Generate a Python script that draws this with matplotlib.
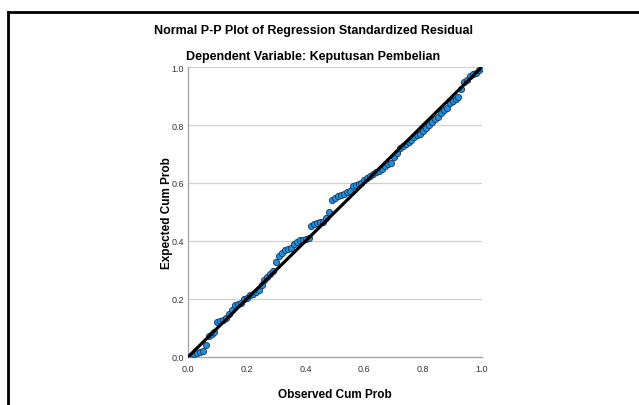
import matplotlib
matplotlib.use("Agg")
import matplotlib.pyplot as plt
from matplotlib.lines import Line2D

plt.rcParams['font.family'] = ['Liberation Sans', 'DejaVu Sans']

# Observed vs expected cumulative probability
observed_cum_prob = [
    0.01, 0.02, 0.03, 0.04, 0.05, 0.06, 0.07, 0.08, 0.09, 0.10,
    0.11, 0.12, 0.13, 0.14, 0.15, 0.16, 0.17, 0.18, 0.19, 0.20,
    0.21, 0.22, 0.23, 0.24, 0.25, 0.26, 0.27, 0.28, 0.29, 0.30,
    0.31, 0.32, 0.33, 0.34, 0.35, 0.36, 0.37, 0.38, 0.39, 0.40,
    0.41, 0.42, 0.43, 0.44, 0.45, 0.46, 0.47, 0.48, 0.49, 0.50,
    0.51, 0.52, 0.53, 0.54, 0.55, 0.56, 0.57, 0.58, 0.59, 0.60,
    0.61, 0.62, 0.63, 0.64, 0.65, 0.66, 0.67, 0.68, 0.69, 0.70,
    0.71, 0.72, 0.73, 0.74, 0.75, 0.76, 0.77, 0.78, 0.79, 0.80,
    0.81, 0.82, 0.83, 0.84, 0.85, 0.86, 0.87, 0.88, 0.89, 0.90,
    0.91, 0.92, 0.93, 0.94, 0.95, 0.96, 0.97, 0.98, 0.99, 1.00,
]
expected_cum_prob = [
    0.005, 0.012, 0.015, 0.018, 0.020, 0.040, 0.072, 0.078, 0.085, 0.122,
    0.125, 0.128, 0.135, 0.150, 0.162, 0.180, 0.183, 0.186, 0.200, 0.203,
    0.214, 0.218, 0.225, 0.232, 0.250, 0.265, 0.275, 0.285, 0.298, 0.329,
    0.350, 0.358, 0.370, 0.373, 0.375, 0.388, 0.398, 0.402, 0.404, 0.407,
    0.410, 0.452, 0.458, 0.462, 0.465, 0.467, 0.480, 0.500, 0.540, 0.550,
    0.555, 0.558, 0.562, 0.568, 0.572, 0.588, 0.592, 0.596, 0.600, 0.612,
    0.618, 0.624, 0.632, 0.638, 0.643, 0.648, 0.660, 0.664, 0.669, 0.690,
    0.705, 0.720, 0.727, 0.733, 0.740, 0.750, 0.757, 0.764, 0.770, 0.780,
    0.790, 0.800, 0.810, 0.820, 0.828, 0.840, 0.852, 0.860, 0.875, 0.882,
    0.888, 0.895, 0.925, 0.948, 0.955, 0.968, 0.976, 0.980, 0.990, 0.998,
]
tick_values = [0.0, 0.2, 0.4, 0.6, 0.8, 1.0]
tick_labels = ['0.0', '0.2', '0.4', '0.6', '0.8', '1.0']

fig = plt.figure(figsize=(6.39, 4.06), dpi=100)
fig.patch.set_facecolor('white')

# partial frame (top and left edge) like the SPSS output viewer
fig.add_artist(Line2D([8 / 639, 1.0], [1 - 12.5 / 406, 1 - 12.5 / 406],
                      color='black', lw=2.0, transform=fig.transFigure))
fig.add_artist(Line2D([8 / 639, 8 / 639], [0.0, 1 - 12.5 / 406],
                      color='black', lw=2.0, transform=fig.transFigure))

ax = fig.add_axes([188 / 639, 48 / 406, 294 / 639, 290 / 406])

ax.scatter(observed_cum_prob, expected_cum_prob, s=20, facecolor='#1f8ee0',
           edgecolor='#1a3550', linewidths=0.6, zorder=3)
ax.plot([0, 1], [0, 1], color='black', lw=2.3, zorder=4)

ax.set_xlim(0, 1)
ax.set_ylim(0, 1)
ax.set_xticks(tick_values)
ax.set_xticklabels(tick_labels)
ax.set_yticks(tick_values)
ax.set_yticklabels(tick_labels)
ax.tick_params(labelsize=6.5, colors='#333333', length=0)
ax.tick_params(axis='x', pad=5)
ax.tick_params(axis='y', pad=3)

ax.yaxis.grid(True, color='#d0d0d0', lw=0.9)
ax.set_axisbelow(True)
for side in ['top', 'right']:
    ax.spines[side].set_visible(False)
for side in ['left', 'bottom']:
    ax.spines[side].set_color('#a8a8a8')
    ax.spines[side].set_linewidth(1.0)

ax.set_xlabel('Observed Cum Prob', fontsize=8.5, fontweight='bold', labelpad=11)
ax.set_ylabel('Expected Cum Prob', fontsize=8.5, fontweight='bold', labelpad=-1)

fig.text(313 / 639, 1 - 31 / 406, 'Normal P-P Plot of Regression Standardized Residual',
         ha='center', va='center', fontsize=9, fontweight='bold')
fig.text(313 / 639, 1 - 57 / 406, 'Dependent Variable: Keputusan Pembelian',
         ha='center', va='center', fontsize=9, fontweight='bold')

fig.savefig('out.png', dpi=100, facecolor='white')
